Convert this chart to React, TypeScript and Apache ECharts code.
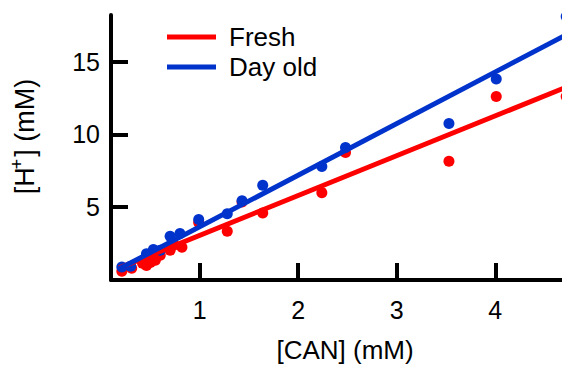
import React, { useEffect, useRef } from "react";
import * as echarts from "echarts";

const canFresh = [0.21, 0.31, 0.42, 0.46, 0.5, 0.55, 0.6, 0.7, 0.74, 0.82, 0.99, 1.28, 1.43, 1.64, 2.24, 2.48, 3.53, 4.01, 4.72];
const hFresh = [0.6, 0.8, 1.15, 1.0, 1.2, 1.35, 1.7, 2.05, 2.4, 2.25, 3.95, 3.35, 5.35, 4.6, 6.0, 8.75, 8.15, 12.6, 12.6];
const canOld = [0.21, 0.3, 0.46, 0.53, 0.6, 0.7, 0.8, 0.99, 1.28, 1.43, 1.64, 2.24, 2.48, 3.53, 4.01, 4.72];
const hOld = [0.9, 0.95, 1.8, 2.1, 2.05, 3.0, 3.2, 4.15, 4.55, 5.45, 6.5, 7.8, 9.1, 10.75, 13.8, 18.1];
const fitX = [0.18, 4.85];
const fitFresh = [0.82, 13.6];
const fitOld = [0.75, 17.3];
const xTicks = [1, 2, 3, 4];
const yTicks = [5, 10, 15];

const FONT = "Liberation Sans, Arial, sans-serif";
const RED = "#ff0000";
const BLUE = "#0033cc";
const LINE_ICON = "path://M0,0 L0.01,0 L0,0 Z M0,10.5 L49,10.5 L49,15.5 L0,15.5 Z M0,26 L0.01,26 L0,26 Z";

export default function App() {
  const ref = useRef<HTMLDivElement>(null);
  useEffect(() => {
    if (!ref.current) return;
    const chart = echarts.init(ref.current, null, { renderer: "svg" });
    const pts = (xs: number[], ys: number[]) => xs.map((x, i) => [x, ys[i]]);
    chart.setOption({
      animation: false,
      textStyle: { fontFamily: FONT },
      grid: { left: 111, right: 21, top: 15, bottom: 87 },
      legend: {
        orient: "vertical",
        left: 167,
        top: 24,
        padding: 0,
        itemWidth: 49,
        itemHeight: 26,
        itemGap: 4,
        data: [
          { name: "Fresh", icon: LINE_ICON },
          { name: "Day old", icon: LINE_ICON },
        ],
        textStyle: { fontSize: 26, color: "#000", fontFamily: FONT, padding: [0, 0, 0, 8] },
      },
      xAxis: {
        type: "value",
        min: 0.1,
        max: 4.85,
        name: "[CAN] (mM)",
        nameLocation: "middle",
        nameGap: 57,
        nameTextStyle: { fontSize: 26, color: "#000", fontFamily: FONT },
        axisLine: { show: true, onZero: false, lineStyle: { color: "#000", width: 4 } },
        axisTick: { show: true, inside: true, length: 17, lineStyle: { color: "#000", width: 4 }, customValues: xTicks },
        axisLabel: { fontSize: 25, color: "#000", margin: 17, customValues: xTicks, fontFamily: FONT },
        splitLine: { show: false },
      },
      yAxis: {
        type: "value",
        min: 0,
        max: 18.2,
        name: "{a|[H}{s|+}{a|] (mM)}",
        nameLocation: "middle",
        nameRotate: 90,
        nameGap: 73,
        nameTextStyle: {
          color: "#000",
          fontFamily: FONT,
          padding: [0, 0, 0, 22],
          rich: {
            a: { fontSize: 27, color: "#000", fontFamily: FONT, lineHeight: 30, verticalAlign: "bottom" },
            s: { fontSize: 18, color: "#000", fontFamily: FONT, lineHeight: 30, verticalAlign: "top", padding: [0, 2, 0, -2] },
          },
        },
        axisLine: { show: true, onZero: false, lineStyle: { color: "#000", width: 4 } },
        axisTick: { show: true, inside: true, length: 17, lineStyle: { color: "#000", width: 4 }, customValues: yTicks },
        axisLabel: { fontSize: 25, color: "#000", margin: 11, customValues: yTicks, fontFamily: FONT },
        splitLine: { show: false },
      },
      series: [
        {
          name: "Fresh",
          type: "line",
          data: pts(fitX, fitFresh),
          symbol: "none",
          lineStyle: { color: RED, width: 5 },
          itemStyle: { color: RED },
          z: 3,
        },
        {
          name: "Day old",
          type: "line",
          data: pts(fitX, fitOld),
          symbol: "none",
          lineStyle: { color: BLUE, width: 5 },
          itemStyle: { color: BLUE },
          z: 3,
        },
        {
          name: "Fresh pts",
          type: "scatter",
          data: pts(canFresh, hFresh),
          symbolSize: 11,
          itemStyle: { color: RED, opacity: 1 },
          clip: false,
          z: 2,
        },
        {
          name: "Day old pts",
          type: "scatter",
          data: pts(canOld, hOld),
          symbolSize: 11,
          itemStyle: { color: BLUE, opacity: 1 },
          clip: false,
          z: 2,
        },
      ],
    });
    return () => chart.dispose();
  }, []);
  return (
    <div style={{ position: "fixed", left: 0, top: 0, width: 562, height: 368, overflow: "hidden", background: "#fff" }}>
      <div ref={ref} style={{ width: 600, height: 368 }} />
    </div>
  );
}
